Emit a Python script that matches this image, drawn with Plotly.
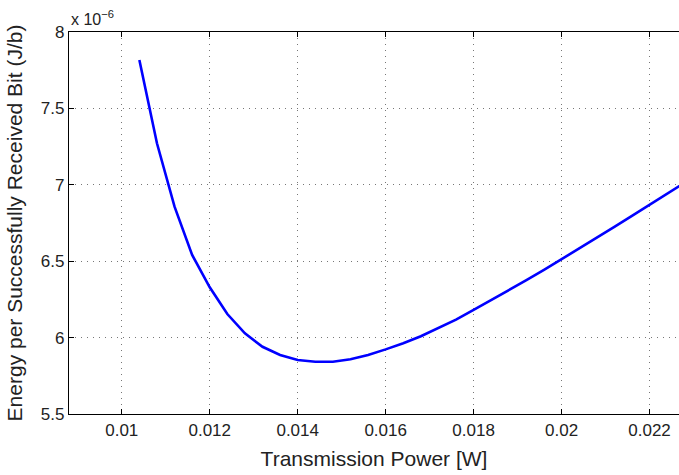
import plotly.graph_objects as go

power_w = [0.0104, 0.0108, 0.0112, 0.0116, 0.0120, 0.0124, 0.0128, 0.0132, 0.0136,
           0.0140, 0.0144, 0.0148, 0.0152, 0.0156, 0.0160, 0.0164, 0.0168, 0.0172,
           0.0176, 0.0180, 0.0184, 0.0188, 0.0192, 0.0196, 0.0200, 0.0204, 0.0208,
           0.0212, 0.0216, 0.0220, 0.0224, 0.0228]
energy_e6 = [7.817, 7.272, 6.857, 6.541, 6.329, 6.154, 6.028, 5.940, 5.886,
             5.853, 5.842, 5.842, 5.858, 5.886, 5.923, 5.963, 6.009, 6.061,
             6.118, 6.181, 6.245, 6.310, 6.376, 6.443, 6.512, 6.582, 6.653,
             6.724, 6.796, 6.868, 6.941, 7.014]

x_ticks = [0.010, 0.012, 0.014, 0.016, 0.018, 0.020, 0.022]
x_tick_labels = ["0.01", "0.012", "0.014", "0.016", "0.018", "0.02", "0.022"]
y_ticks = [5.5, 6, 6.5, 7, 7.5, 8]
y_tick_labels = ["5.5", "6", "6.5", "7", "7.5", "8"]

font = "Liberation Sans, Arial, Helvetica, sans-serif"
grid = dict(showgrid=True, gridcolor="#777", griddash="1px,5px", gridwidth=1)

fig = go.Figure()
fig.add_trace(go.Scatter(x=power_w, y=energy_e6, mode="lines",
                         line=dict(color="#0000FF", width=2.6), showlegend=False))

fig.update_layout(
    width=679, height=475,
    margin=dict(l=69, r=0, t=32, b=61),
    paper_bgcolor="white", plot_bgcolor="white",
    font=dict(family=font, size=17, color="#222"),
    xaxis=dict(range=[0.0088, 0.02267], tickvals=x_ticks, ticktext=x_tick_labels,
               **grid,
               showline=True, linecolor="black", linewidth=1.2, mirror="ticks",
               ticks="inside", ticklen=5, tickcolor="black", zeroline=False,
               tickfont=dict(size=17, color="#222"),
               title=dict(text="Transmission Power [W]", font=dict(size=21), standoff=12)),
    yaxis=dict(range=[5.5, 8], tickvals=y_ticks, ticktext=y_tick_labels,
               **grid,
               showline=True, linecolor="black", linewidth=1.2, mirror=False,
               ticks="inside", ticklen=5, tickcolor="black", zeroline=False,
               tickfont=dict(size=17, color="#222"),
               title=dict(text="Energy per Successfully Received Bit (J/b)", font=dict(size=21), standoff=12)),
    annotations=[dict(text="x 10<sup>\u22126</sup>", xref="paper", yref="paper",
                      x=0, y=1, xanchor="left", yanchor="bottom", yshift=2,
                      showarrow=False, font=dict(size=16, color="#222"))],
)

fig.write_html("out.html")
